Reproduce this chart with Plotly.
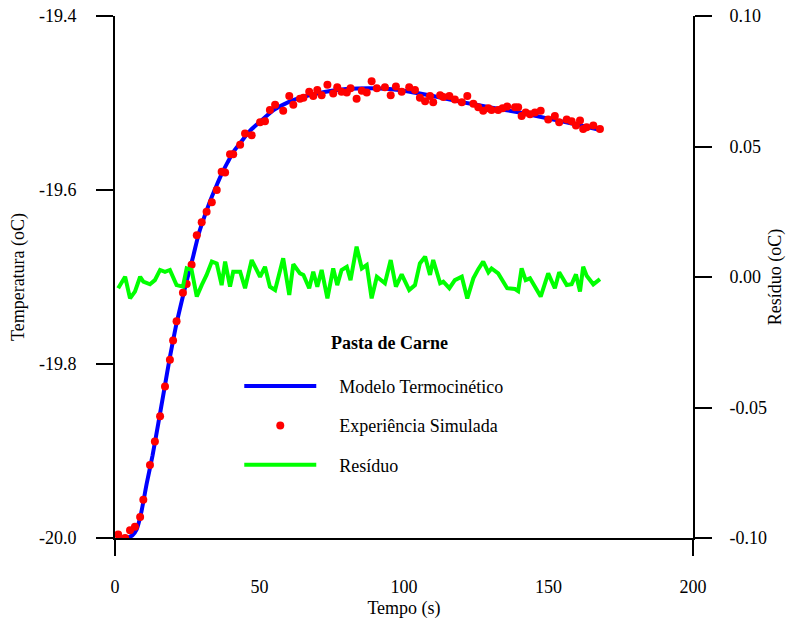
import plotly.graph_objects as go

# ---- data ----
model_time = [0.7, 4, 6, 7.5, 9, 11, 13, 15, 17, 19, 21, 23, 25, 27, 29, 31, 33, 35, 37, 39, 41,
              44, 47, 50, 55, 60, 65, 70, 75, 80, 88, 95, 102, 110, 120, 130, 140, 150, 160, 168]
model_temp = [-20.000, -20.000, -19.997, -19.990, -19.972, -19.937, -19.905, -19.868, -19.830,
              -19.792, -19.758, -19.729, -19.702, -19.677, -19.650, -19.630, -19.612, -19.596,
              -19.581, -19.568, -19.556, -19.543, -19.531, -19.522, -19.508, -19.499, -19.493,
              -19.489, -19.486, -19.484, -19.483, -19.484, -19.487, -19.492, -19.499, -19.505,
              -19.511, -19.518, -19.525, -19.531]

sample_time = [1.1, 3.5, 5.2, 6.9, 8.7, 9.8, 12.1, 13.8, 15.6, 17.3, 19.0, 20.1, 21.3, 23.5, 24.8,
               26.5, 28.3, 30.0, 31.7, 33.5, 35.2, 36.9, 38.1, 39.8, 40.9, 43.3, 45.0, 47.3, 50.2,
               51.9, 53.6, 55.4, 58.2, 60.3, 61.7, 64.0, 65.2, 67.2, 68.6, 70.0, 71.5, 73.5, 75.5,
               76.9, 78.4, 80.2, 81.5, 83.6, 85.4, 87.1, 88.8, 90.6, 93.4, 95.4, 97.2, 99.2, 101.8,
               103.8, 105.5, 107.3, 109.0, 110.1, 112.5, 113.6, 115.7, 117.6, 120.0, 121.9, 124.0,
               125.7, 127.4, 129.2, 130.3, 132.6, 134.1, 135.7, 138.4, 139.5, 140.7, 142.1, 143.6,
               145.3, 147.3, 149.9, 152.2, 153.7, 156.3, 158.0, 159.5, 160.9, 162.0, 163.2, 165.5,
               167.8]
experiment = [-19.996, -20.000, -19.991, -19.987, -19.976, -19.956, -19.916, -19.889, -19.860,
              -19.826, -19.795, -19.773, -19.751, -19.718, -19.708, -19.686, -19.652, -19.637,
              -19.625, -19.614, -19.600, -19.579, -19.580, -19.559, -19.559, -19.548, -19.535,
              -19.537, -19.522, -19.521, -19.508, -19.502, -19.509, -19.492, -19.502, -19.495,
              -19.494, -19.487, -19.492, -19.485, -19.491, -19.479, -19.489, -19.482, -19.487,
              -19.488, -19.483, -19.495, -19.486, -19.488, -19.475, -19.483, -19.482, -19.491,
              -19.481, -19.487, -19.482, -19.485, -19.494, -19.498, -19.492, -19.499, -19.491,
              -19.493, -19.492, -19.496, -19.499, -19.492, -19.501, -19.505, -19.509, -19.506,
              -19.508, -19.508, -19.506, -19.504, -19.505, -19.505, -19.515, -19.511, -19.513,
              -19.511, -19.509, -19.519, -19.515, -19.522, -19.519, -19.521, -19.526, -19.520,
              -19.530, -19.528, -19.526, -19.530]
residual = [-0.0043, 0.0001, -0.0082, -0.0056, 0.0001, -0.0018, -0.0028, -0.0012, 0.0027, 0.0020,
            0.0027, 0.0001, -0.0031, -0.0037, 0.0033, 0.0027, -0.0075, -0.0031, 0.0008, 0.0059,
            0.0052, -0.0031, 0.0059, -0.0037, 0.0020, 0.0020, -0.0043, 0.0065, 0.0001, 0.0039,
            -0.0037, -0.0050, 0.0072, -0.0069, 0.0049, 0.0014, 0.0008, -0.0043, 0.0020, -0.0037,
            0.0027, -0.0082, 0.0033, -0.0031, 0.0027, 0.0039, -0.0012, 0.0116, 0.0033, 0.0046,
            -0.0082, 0.0001, -0.0024, 0.0065, -0.0037, 0.0010, -0.0050, -0.0031, 0.0052, 0.0078,
            0.0008, 0.0065, -0.0024, -0.0018, -0.0043, -0.0012, 0.0001, -0.0082, -0.0005, 0.0030,
            0.0059, 0.0018, 0.0033, 0.0014, -0.0015, -0.0043, -0.0046, -0.0054, 0.0033, -0.0012,
            -0.0005, -0.0040, -0.0075, 0.0014, -0.0043, 0.0018, -0.0031, -0.0028, 0.0010, -0.0056,
            0.0039, 0.0005, -0.0028, -0.0008]

temp_ticks = [-20.0, -19.8, -19.6, -19.4]
res_ticks = [-0.10, -0.05, 0.00, 0.05, 0.10]
time_ticks = [0, 50, 100, 150, 200]

FONT = "Liberation Serif"
FS = 18
NB = "\u00a0" * 4

fig = go.Figure()
fig.add_trace(go.Scatter(x=model_time, y=model_temp, mode="lines", name=NB + "Modelo Termocinético",
                         line=dict(color="#0000ff", width=4, shape="spline", smoothing=0.6),
                         legendgroup="a"))
fig.add_trace(go.Scatter(x=sample_time, y=experiment, mode="markers", name=NB + "Experiência Simulada",
                         marker=dict(color="#ff0000", size=8), legendgroup="b"))
fig.add_trace(go.Scatter(x=sample_time, y=residual, mode="lines", name=NB + "Resíduo",
                         line=dict(color="#00ff00", width=4), yaxis="y2", xaxis="x2",
                         legendgroup="c"))

axis_common = dict(showline=True, linecolor="black", linewidth=2, showgrid=False, zeroline=False,
                   tickcolor="black", tickwidth=2, ticklen=17, ticks="outside", automargin=False,
                   tickfont=dict(family=FONT, size=FS, color="black"))

fig.update_layout(
    width=786, height=622,
    margin=dict(l=115, r=93, t=16, b=84),
    plot_bgcolor="white", paper_bgcolor="white",
    font=dict(family=FONT, size=FS, color="black"),
    xaxis=dict(range=[0, 200], tickvals=time_ticks, ticktext=[str(v) for v in time_ticks],
               showline=True, linecolor="black", linewidth=2, showgrid=False, zeroline=False,
               ticks="", ticklabelstandoff=31, automargin=False,
               tickfont=dict(family=FONT, size=FS, color="black"),
               title=dict(text="Tempo (s)", standoff=6, font=dict(family=FONT, size=FS))),
    xaxis2=dict(range=[0, 200], overlaying="x", side="bottom", tickvals=[0, 200],
                showticklabels=False, showline=False, showgrid=False, zeroline=False,
                automargin=False,
                ticks="outside", ticklen=17, tickwidth=2, tickcolor="black"),
    yaxis=dict(range=[-20.0, -19.4], tickvals=temp_ticks,
               ticktext=[f"{v:.1f}" for v in temp_ticks],
               ticklabelstandoff=16,
               title=dict(text="Temperatura (oC)", standoff=10, font=dict(family=FONT, size=FS)),
               **axis_common),
    yaxis2=dict(range=[-0.10, 0.10], tickvals=res_ticks,
                ticktext=[f"{v:.2f}" for v in res_ticks], overlaying="y",
                side="right", ticklabelstandoff=14,
                title=dict(text="Resíduo (oC)", standoff=4, font=dict(family=FONT, size=FS)),
                **axis_common),
    showlegend=True,
    legend=dict(x=0.215, y=0.326, xanchor="left", yanchor="top", bgcolor="rgba(0,0,0,0)",
                itemwidth=72, tracegroupgap=13,
                font=dict(family=FONT, size=FS, color="black")),
    annotations=[dict(text="<b>Pasta de Carne</b>", x=0.475, y=0.373, xref="paper", yref="paper",
                      xanchor="center", yanchor="middle", showarrow=False,
                      font=dict(family=FONT, size=FS, color="black"))],
)

fig.write_html("out.html")
